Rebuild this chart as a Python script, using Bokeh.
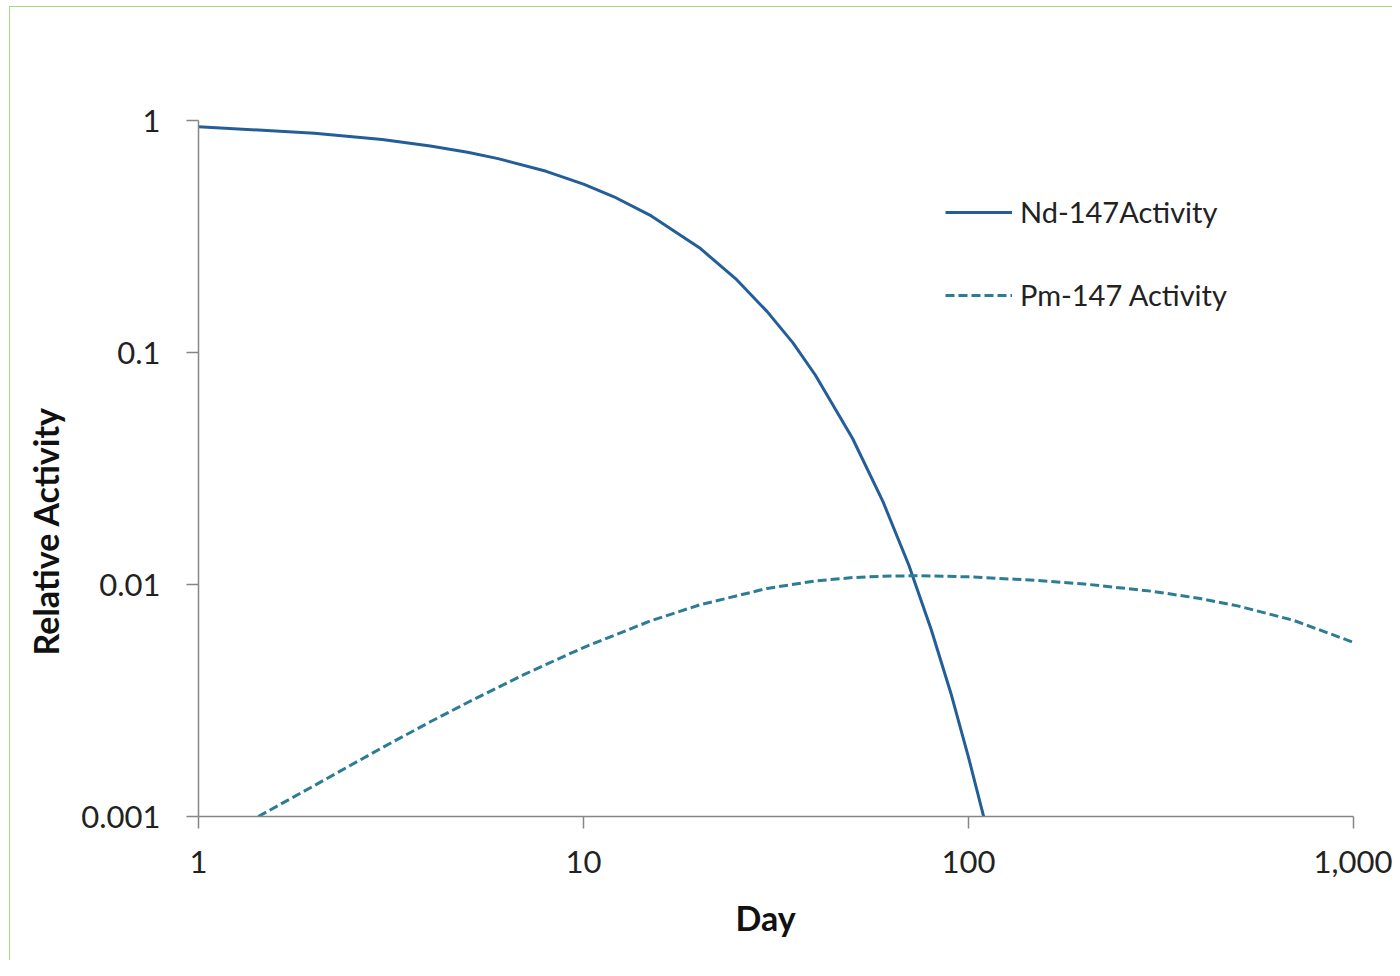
from bokeh.plotting import figure
from bokeh.models import Legend, LegendItem, FixedTicker, CustomJSTickFormatter, Title
from bokeh.embed import file_html
from bokeh.resources import INLINE

# Nd-147 activity
nd_day = [1, 2, 3, 4, 5, 6, 8, 10, 12, 15, 20, 25, 30, 35, 40, 50, 60, 70, 80, 90, 100, 110]
nd_act = [0.939, 0.882, 0.828, 0.777, 0.730, 0.685, 0.604, 0.532, 0.469, 0.388, 0.283, 0.206,
          0.150, 0.110, 0.080, 0.0426, 0.0227, 0.0121, 0.0064, 0.0034, 0.0018, 0.00097]

# Pm-147 activity
pm_day = [1.43, 2, 3, 4, 5, 7, 10, 15, 20, 30, 40, 50, 60, 70, 80, 100, 150, 200, 300, 400, 500, 700, 1000]
pm_act = [0.00100, 0.00136, 0.00198, 0.00256, 0.00310, 0.00409, 0.00535, 0.00699, 0.00816, 0.00962,
          0.01036, 0.01071, 0.01086, 0.01090, 0.01089, 0.01079, 0.01042, 0.01005, 0.00935, 0.00870,
          0.00809, 0.00700, 0.00563]

x_ticks = [1, 10, 100, 1000]
y_ticks = [0.001, 0.01, 0.1, 1]

FONT = "Lato"
AXIS_COLOR = "#868686"
TEXT_COLOR = "#222222"
GREEN = "#a6d785"

p = figure(width=1392, height=960, x_axis_type="log", y_axis_type="log",
           x_range=(1, 1000), y_range=(0.001, 1),
           output_backend="svg", toolbar_location=None,
           min_border_left=198, min_border_right=39, min_border_top=120, min_border_bottom=144)
p.styles = {"background": (f"linear-gradient({GREEN},{GREEN}) 9px 6px / 1px 100% no-repeat, "
                           f"linear-gradient({GREEN},{GREEN}) 9px 6px / 100% 1px no-repeat, white")}
p.background_fill_color = "white"
p.border_fill_alpha = 0
p.outline_line_color = None
p.grid.grid_line_color = None

p.line(nd_day, nd_act, line_color="#245E98", line_width=3)
p.line(pm_day, pm_act, line_color="#2C7C94", line_width=3, line_dash="9 4")

for ax in (p.xaxis[0], p.yaxis[0]):
    ax.axis_line_color = AXIS_COLOR
    ax.axis_line_width = 1.5
    ax.major_tick_line_color = AXIS_COLOR
    ax.major_tick_line_width = 1.5
    ax.major_tick_out = 12
    ax.major_tick_in = 0
    ax.minor_tick_line_color = None
    ax.major_label_text_font = FONT
    ax.major_label_text_font_size = "31px"
    ax.major_label_text_color = TEXT_COLOR

p.xaxis.ticker = FixedTicker(ticks=x_ticks)
p.yaxis.ticker = FixedTicker(ticks=y_ticks)
p.xaxis.formatter = CustomJSTickFormatter(code="return tick >= 1000 ? tick.toLocaleString('en-US') : String(tick);")
p.yaxis.formatter = CustomJSTickFormatter(code="return String(tick);")
p.xaxis.major_label_standoff = 22
p.yaxis.major_label_standoff = 26

xlab = Title(text="Day", align="left", offset=537, standoff=38,
             text_font=FONT, text_font_style="bold", text_font_size="34px", text_color="#111111")
p.add_layout(xlab, "below")

ylab = Title(text="Relative Activity", align="left", offset=161, standoff=26,
             text_font=FONT, text_font_style="bold", text_font_size="34px", text_color="#111111")
p.add_layout(ylab, "left")

r1, r2 = p.renderers[0], p.renderers[1]
legend = Legend(items=[LegendItem(label="Nd-147Activity", renderers=[r1]),
                       LegendItem(label="Pm-147 Activity", renderers=[r2])],
                location=(747, 504), orientation="vertical")
legend.label_text_font = FONT
legend.label_text_font_size = "29px"
legend.label_text_color = TEXT_COLOR
legend.glyph_width = 67
legend.label_standoff = 8
legend.spacing = 48
legend.padding = 0
legend.margin = 0
legend.border_line_color = None
legend.background_fill_alpha = 0
p.add_layout(legend)

open("out.html", "w").write(file_html(p, INLINE))
